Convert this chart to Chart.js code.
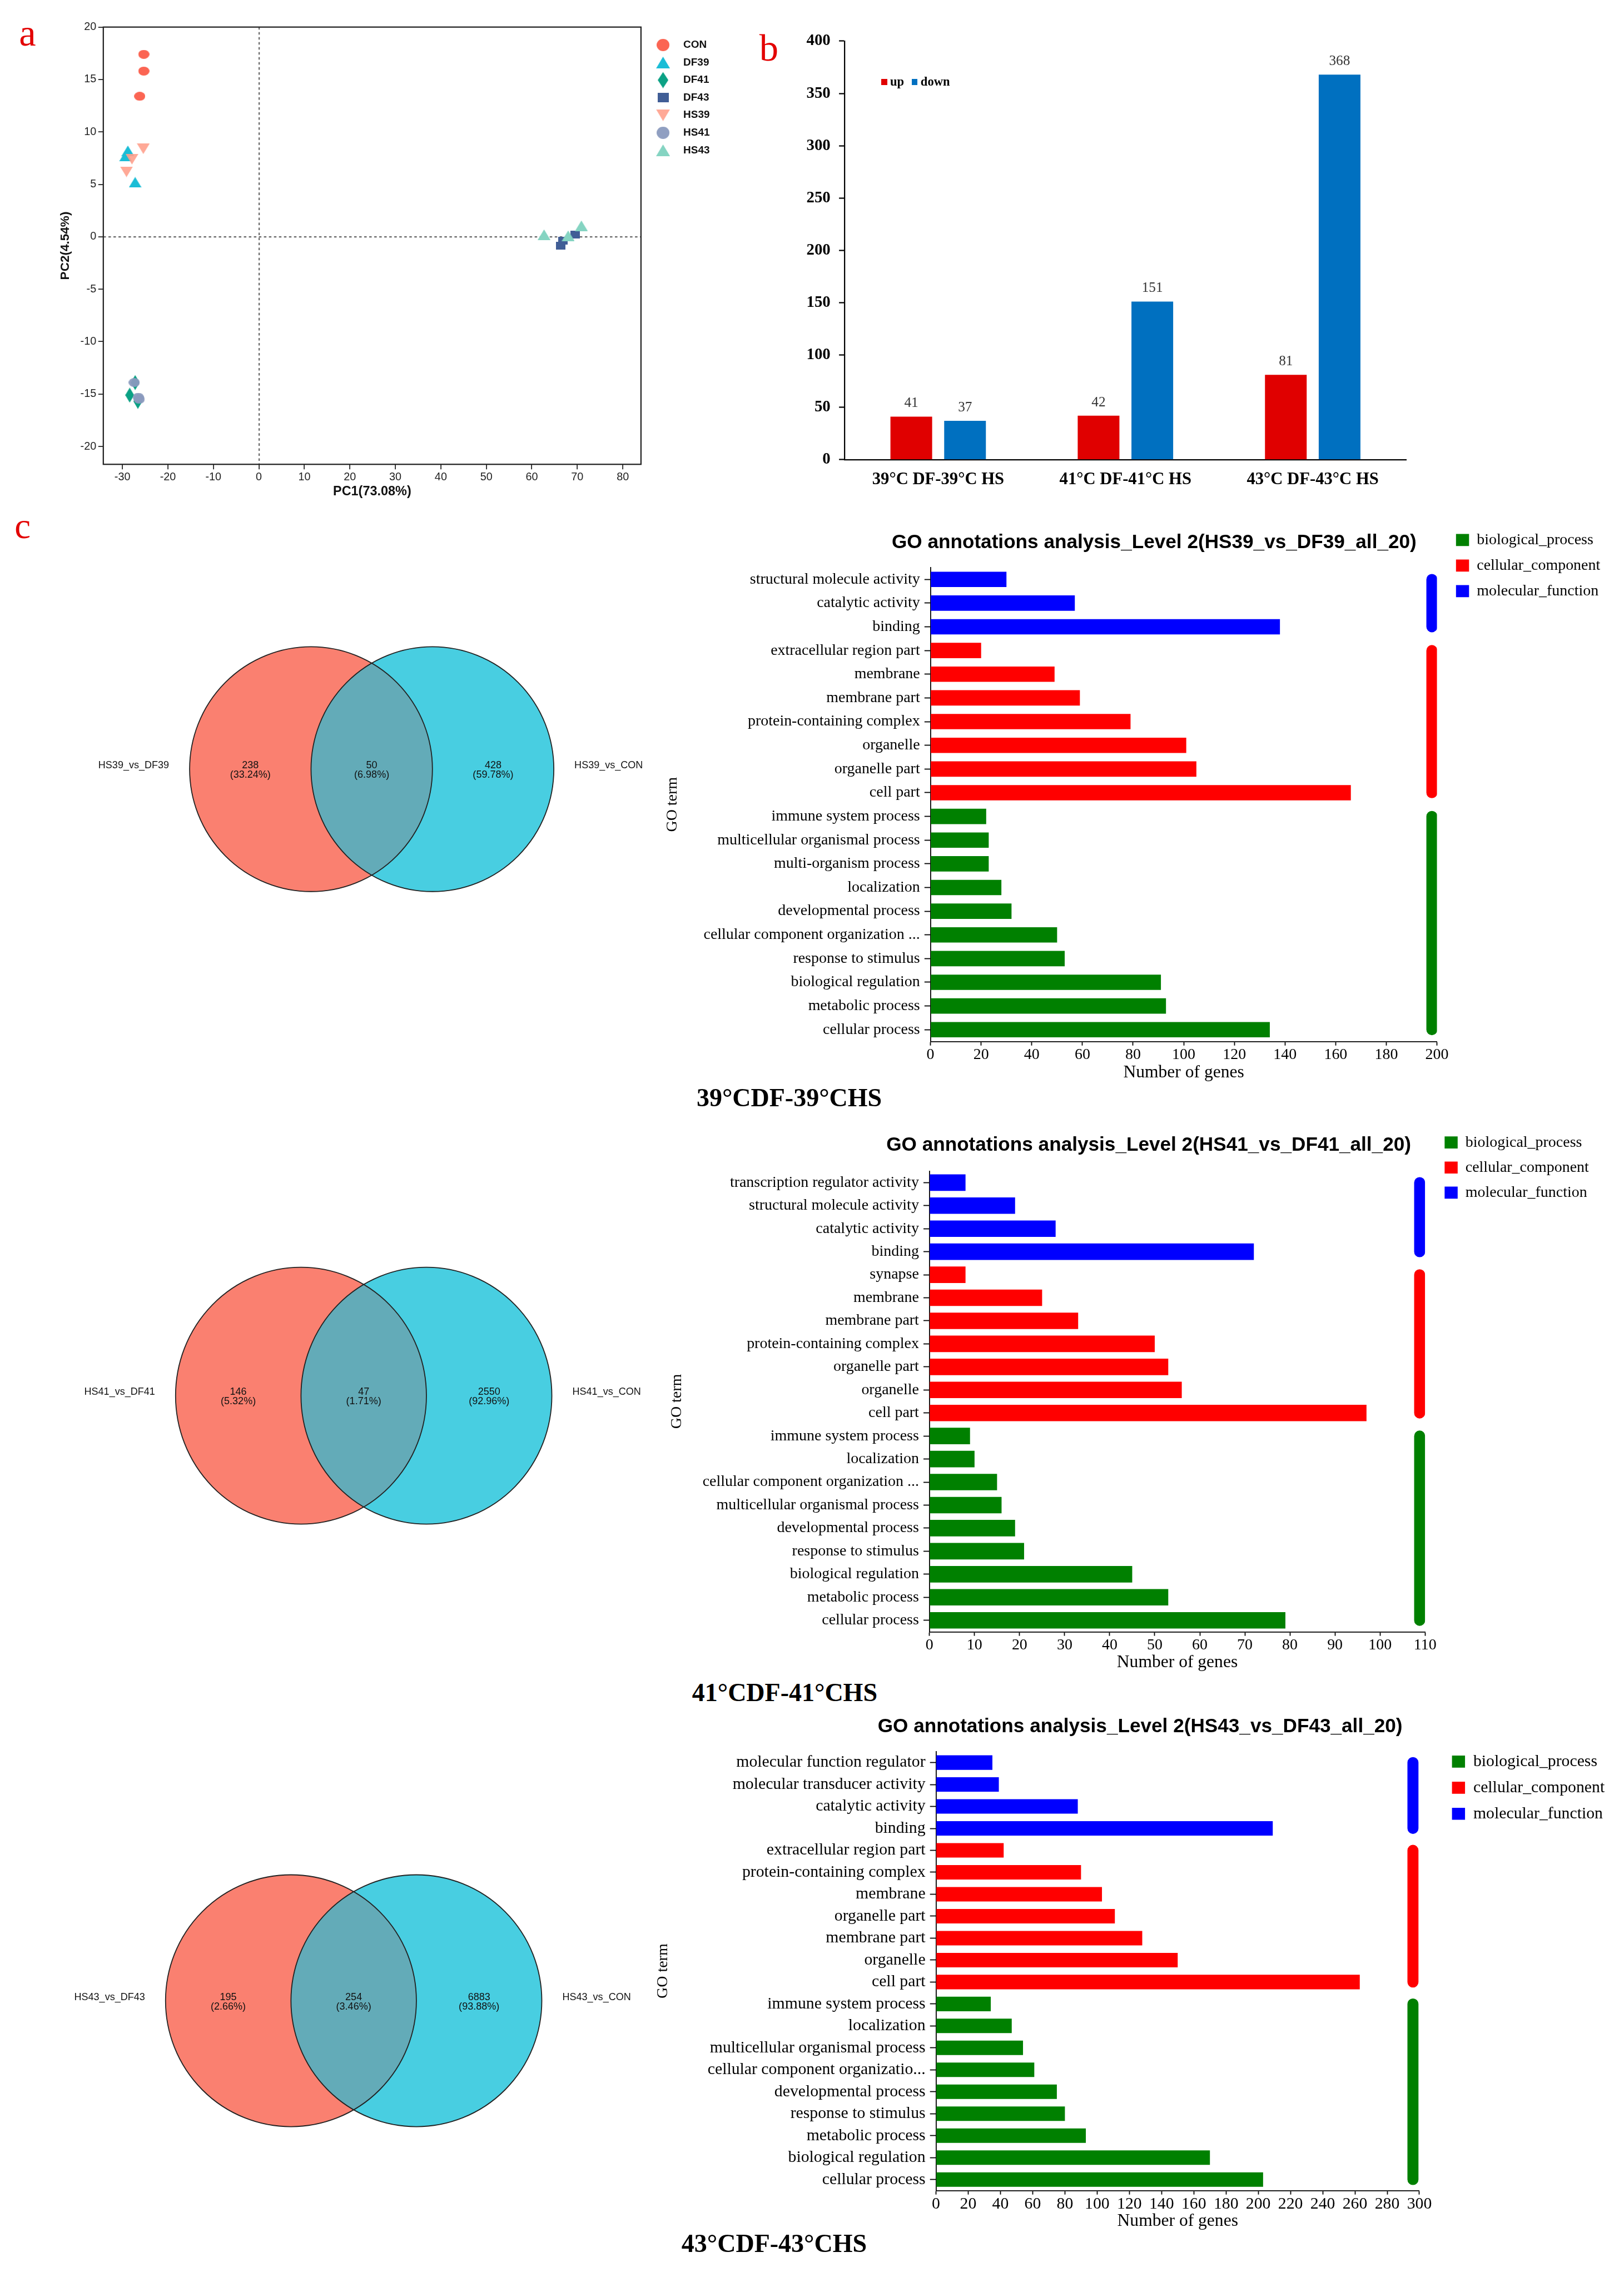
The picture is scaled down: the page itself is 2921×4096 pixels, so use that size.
<!DOCTYPE html>
<html>
<head>
<meta charset="utf-8">
<title>PCA, DEG counts, Venn and GO annotation</title>
<script src="https://cdn.jsdelivr.net/npm/chart.js@4.4.1/dist/chart.umd.min.js"></script>
<style>
  html, body { margin: 0; padding: 0; background: #fff; overflow: hidden; }
  #page { position: relative; width: 2921px; height: 4096px; background: #fff; }
  #page canvas { position: absolute; }
  .txt { position: absolute; white-space: nowrap; line-height: 1; font-family: 'Liberation Serif', 'Times New Roman', serif; }
</style>
</head>
<body>
<div id="page"></div>
<script>
/* ---------------- data ---------------- */
// a: PCA scores (PC1, PC2)
var pcaGroups = ['CON', 'DF39', 'DF41', 'DF43', 'HS39', 'HS41', 'HS43'];
var pcaCON  = [[-25.3, 17.4], [-25.3, 15.8], [-26.2, 13.4]];
var pcaDF39 = [[-28.8, 8.2], [-29.3, 7.7], [-27.2, 5.2]];
var pcaDF41 = [[-27.2, -13.9], [-28.4, -15.1], [-26.6, -15.7]];
var pcaDF43 = [[66.4, -0.85], [66.9, -0.4], [69.5, 0.2]];
var pcaHS39 = [[-25.4, 8.4], [-27.9, 7.4], [-29.1, 6.2]];
var pcaHS41 = [[-27.4, -13.9], [-26.5, -15.3], [-26.3, -15.5]];
var pcaHS43 = [[62.7, 0.2], [68.0, 0.1], [70.9, 1.05]];

// b: DEG numbers
var degCats = ['39°C DF-39°C HS', '41°C DF-41°C HS', '43°C DF-43°C HS'];
var degUp = [41, 42, 81];
var degDown = [37, 151, 368];

// c: Venn
var venn39Sets = ['HS39_vs_DF39', 'HS39_vs_CON'];
var venn39Counts = [238, 50, 428];
var venn39Pct = ['33.24%', '6.98%', '59.78%'];
var venn41Sets = ['HS41_vs_DF41', 'HS41_vs_CON'];
var venn41Counts = [146, 47, 2550];
var venn41Pct = ['5.32%', '1.71%', '92.96%'];
var venn43Sets = ['HS43_vs_DF43', 'HS43_vs_CON'];
var venn43Counts = [195, 254, 6883];
var venn43Pct = ['2.66%', '3.46%', '93.88%'];

// c: GO level 2
var goClassNames = ['biological_process', 'cellular_component', 'molecular_function'];
var goClassCodes = ['BP', 'CC', 'MF'];

var go39Terms = ['structural molecule activity', 'catalytic activity', 'binding',
  'extracellular region part', 'membrane', 'membrane part', 'protein-containing complex',
  'organelle', 'organelle part', 'cell part',
  'immune system process', 'multicellular organismal process', 'multi-organism process',
  'localization', 'developmental process', 'cellular component organization ...',
  'response to stimulus', 'biological regulation', 'metabolic process', 'cellular process'];
var go39Counts = [30, 57, 138, 20, 49, 59, 79, 101, 105, 166, 22, 23, 23, 28, 32, 50, 53, 91, 93, 134];
var go39Class = ['MF', 'MF', 'MF', 'CC', 'CC', 'CC', 'CC', 'CC', 'CC', 'CC',
  'BP', 'BP', 'BP', 'BP', 'BP', 'BP', 'BP', 'BP', 'BP', 'BP'];

var go41Terms = ['transcription regulator activity', 'structural molecule activity', 'catalytic activity', 'binding',
  'synapse', 'membrane', 'membrane part', 'protein-containing complex', 'organelle part', 'organelle', 'cell part',
  'immune system process', 'localization', 'cellular component organization ...',
  'multicellular organismal process', 'developmental process', 'response to stimulus',
  'biological regulation', 'metabolic process', 'cellular process'];
var go41Counts = [8, 19, 28, 72, 8, 25, 33, 50, 53, 56, 97, 9, 10, 15, 16, 19, 21, 45, 53, 79];
var go41Class = ['MF', 'MF', 'MF', 'MF', 'CC', 'CC', 'CC', 'CC', 'CC', 'CC', 'CC',
  'BP', 'BP', 'BP', 'BP', 'BP', 'BP', 'BP', 'BP', 'BP'];

var go43Terms = ['molecular function regulator', 'molecular transducer activity', 'catalytic activity', 'binding',
  'extracellular region part', 'protein-containing complex', 'membrane', 'organelle part', 'membrane part',
  'organelle', 'cell part',
  'immune system process', 'localization', 'multicellular organismal process', 'cellular component organizatio...',
  'developmental process', 'response to stimulus', 'metabolic process', 'biological regulation', 'cellular process'];
var go43Counts = [35, 39, 88, 209, 42, 90, 103, 111, 128, 150, 263, 34, 47, 54, 61, 75, 80, 93, 170, 203];
var go43Class = ['MF', 'MF', 'MF', 'MF', 'CC', 'CC', 'CC', 'CC', 'CC', 'CC', 'CC',
  'BP', 'BP', 'BP', 'BP', 'BP', 'BP', 'BP', 'BP', 'BP'];

/* ---------------- setup ---------------- */
var S = 0.902;   // reference pixels -> page pixels
function px(v) { return v * S; }
var SERIF = "'Liberation Serif', 'Times New Roman', serif";
var SANS = "'Liberation Sans', Arial, sans-serif";
var page = document.getElementById('page');

Chart.defaults.font.family = SERIF;
Chart.defaults.color = '#000';
Chart.defaults.animation = false;
Chart.defaults.plugins.tooltip.enabled = false;

function addCanvas(x, y, w, h) {
  var c = document.createElement('canvas');
  c.width = Math.round(px(w));
  c.height = Math.round(px(h));
  c.style.left = px(x) + 'px';
  c.style.top = px(y) + 'px';
  page.appendChild(c);
  return c;
}

function addText(text, x, baseline, size, weight, color) {
  var d = document.createElement('div');
  d.className = 'txt';
  d.textContent = text;
  d.style.left = px(x) + 'px';
  d.style.top = px(baseline - 0.84 * size) + 'px';
  d.style.fontSize = px(size) + 'px';
  d.style.fontWeight = weight || 'normal';
  d.style.color = color || '#000';
  page.appendChild(d);
}

// after layout: nudge the title sideways, and let the legend text run to the canvas edge
var boxTweak = {
  id: 'boxTweak',
  afterLayout: function (chart, args, opts) {
    var t = chart.titleBlock;
    if (t && opts.dx) {
      t.left += opts.dx - opts.widen;
      t.right += opts.dx + opts.widen;
    }
    if (chart.legend) chart.legend.right = chart.width;
  }
};

/* ---------------- a: PCA ---------------- */
var pcaShape = {CON: 'circle', DF39: 'up', DF41: 'diamond', DF43: 'square', HS39: 'down', HS41: 'circle', HS43: 'up'};
var pcaColor = {CON: '#FB6553', DF39: '#1BBDD6', DF41: '#0BA184', DF43: '#415E96',
  HS39: 'rgba(255,160,140,0.9)', HS41: 'rgba(138,154,190,0.95)', HS43: '#85D4C2'};
var plotSize = {circle: [22, 18], up: [26, 21], down: [26, 21], diamond: [18, 30], square: [19, 15]};
var keySize = {circle: [25, 24], up: [28, 23], down: [28, 23], diamond: [21, 32], square: [22, 19]};

function marker(shape, color, size) {
  var c = document.createElement('canvas');
  c.width = Math.round(px(size[0]));
  c.height = Math.round(px(size[1]));
  var g = c.getContext('2d'), W = c.width, H = c.height;
  g.fillStyle = color;
  g.beginPath();
  if (shape === 'circle') g.ellipse(W / 2, H / 2, W / 2, H / 2, 0, 0, Math.PI * 2);
  else if (shape === 'up') { g.moveTo(W / 2, 0); g.lineTo(W, H); g.lineTo(0, H); }
  else if (shape === 'down') { g.moveTo(0, 0); g.lineTo(W, 0); g.lineTo(W / 2, H); }
  else if (shape === 'diamond') { g.moveTo(W / 2, 0); g.lineTo(W, H / 2); g.lineTo(W / 2, H); g.lineTo(0, H / 2); }
  else g.rect(0, 0, W, H);
  g.closePath();
  g.fill();
  return c;
}

var frame = {
  id: 'frame',
  beforeDatasetsDraw: function (chart) {
    var a = chart.chartArea, ctx = chart.ctx;
    ctx.save();
    ctx.strokeStyle = '#222';
    ctx.lineWidth = px(2.5);
    ctx.strokeRect(a.left, a.top, a.right - a.left, a.bottom - a.top);
    ctx.restore();
  }
};

var pcaPoints = [pcaCON, pcaDF39, pcaDF41, pcaDF43, pcaHS39, pcaHS41, pcaHS43];
var zeroLine = function (c) { return c.tick && c.tick.value === 0 ? '#666' : 'rgba(0,0,0,0)'; };

new Chart(addCanvas(0, 0, 1430, 1000), {
  type: 'scatter',
  data: {
    datasets: pcaGroups.map(function (g, i) {
      return {
        label: g,
        data: pcaPoints[i].map(function (p) { return {x: p[0], y: p[1]}; }),
        pointStyle: marker(pcaShape[g], pcaColor[g], plotSize[pcaShape[g]]),
        order: g.indexOf('HS') === 0 ? 0 : 1
      };
    })
  },
  options: {
    responsive: false,
    layout: {padding: {left: px(112), top: px(54), right: px(32), bottom: 0}},
    plugins: {
      legend: {
        position: 'right', align: 'start', maxWidth: px(120),
        title: {display: true, text: '', padding: px(2), font: {size: px(6)}},
        labels: {
          usePointStyle: true, pointStyleWidth: px(60), boxHeight: px(21), padding: px(14),
          font: {family: SANS, size: px(21), weight: 'bold'}, color: '#111',
          sort: function (a, b) { return a.datasetIndex - b.datasetIndex; },
          generateLabels: function (chart) {
            return Chart.defaults.plugins.legend.labels.generateLabels(chart).map(function (item) {
              var g = pcaGroups[item.datasetIndex];
              item.pointStyle = marker(pcaShape[g], pcaColor[g], keySize[pcaShape[g]]);
              return item;
            });
          }
        }
      }
    },
    scales: {
      x: {
        type: 'linear', min: -34.2, max: 84,
        ticks: {stepSize: 10, includeBounds: false, font: {family: SANS, size: px(22)}, color: '#222', padding: px(3)},
        grid: {color: zeroLine, lineWidth: px(2.5), tickColor: '#222', tickLength: px(10), tickWidth: px(2)},
        border: {display: false, dash: [px(5), px(5)]},
        title: {display: true, text: 'PC1(73.08%)', font: {family: SANS, size: px(26), weight: 'bold'}, color: '#111', padding: {top: 0, bottom: px(4)}},
        afterFit: function (s) { s.height = px(74); }
      },
      y: {
        type: 'linear', min: -21.7, max: 20,
        ticks: {stepSize: 5, includeBounds: false, font: {family: SANS, size: px(22)}, color: '#222', padding: px(4)},
        grid: {color: zeroLine, lineWidth: px(2.5), tickColor: '#222', tickLength: px(10), tickWidth: px(2)},
        border: {display: false, dash: [px(5), px(5)]},
        title: {display: true, text: 'PC2(4.54%)', font: {family: SANS, size: px(25), weight: 'bold'}, color: '#111', padding: {top: px(4), bottom: 0}},
        afterFit: function (s) { s.width = px(94); }
      }
    }
  },
  plugins: [frame, boxTweak]
});

/* ---------------- b: DEG bars ---------------- */
var barValueLabels = {
  id: 'barValueLabels',
  afterDatasetsDraw: function (chart) {
    var ctx = chart.ctx;
    ctx.save();
    ctx.font = px(28) + 'px ' + SERIF;
    ctx.fillStyle = '#333';
    ctx.textAlign = 'center';
    chart.data.datasets.forEach(function (ds, i) {
      chart.getDatasetMeta(i).data.forEach(function (bar, j) {
        ctx.fillText(ds.data[j], bar.x, bar.y - px(19));
      });
    });
    ctx.restore();
  }
};

var chartB = new Chart(addCanvas(1480, 0, 1370, 1000), {
  type: 'bar',
  data: {
    labels: degCats,
    datasets: [
      {label: 'up', data: degUp, backgroundColor: '#E00000'},
      {label: 'down', data: degDown, backgroundColor: '#0070C0'}
    ]
  },
  options: {
    responsive: false,
    layout: {padding: {left: 0, top: px(82), right: px(46), bottom: 0}},
    datasets: {bar: {categoryPercentage: 0.574, barPercentage: 0.776}},
    plugins: {legend: {display: false}},
    scales: {
      x: {
        ticks: {font: {size: px(34), weight: 'bold'}, color: '#000', padding: px(20)},
        grid: {display: false, drawTicks: false},
        border: {color: '#000', width: px(2.5)},
        afterFit: function (s) { s.height = px(83.5); }
      },
      y: {
        min: 0, max: 400,
        ticks: {stepSize: 50, font: {size: px(32), weight: 'bold'}, color: '#000', padding: px(17)},
        grid: {drawOnChartArea: false, tickLength: px(11), tickColor: '#000', tickWidth: px(2.5)},
        border: {color: '#000', width: px(2.5)},
        afterFit: function (s) { s.width = px(204); }
      }
    }
  },
  plugins: [barValueLabels]
});

// html legend for b, built from the chart's datasets
var bLegend = document.createElement('div');
bLegend.style.cssText = 'position:absolute;display:flex;align-items:center;line-height:1;white-space:nowrap;font-weight:bold;font-family:' + SERIF;
bLegend.style.left = px(1757) + 'px';
bLegend.style.top = px(151) + 'px';
bLegend.style.fontSize = px(25) + 'px';
chartB.data.datasets.forEach(function (ds) {
  var item = document.createElement('span');
  item.style.cssText = 'display:flex;align-items:center;margin-right:' + px(15) + 'px';
  var sw = document.createElement('span');
  sw.style.cssText = 'display:inline-block;width:' + px(12) + 'px;height:' + px(12) + 'px;margin-right:' + px(6) + 'px;background:' + ds.backgroundColor;
  item.appendChild(sw);
  item.appendChild(document.createTextNode(ds.label));
  bLegend.appendChild(item);
});
page.appendChild(bLegend);

/* ---------------- c: Venn ---------------- */
function vennChart(box, xRange, yRange, sets, counts, pct) {
  var draw = {
    id: 'venn',
    afterDraw: function (chart) {
      var ctx = chart.ctx, x = chart.scales.x, y = chart.scales.y;
      var cL = x.getPixelForValue(0), cR = x.getPixelForValue(1), cy = y.getPixelForValue(0);
      var rx = cR - cL, ry = cy - y.getPixelForValue(1);
      function ell(c) { ctx.beginPath(); ctx.ellipse(c, cy, rx, ry, 0, 0, Math.PI * 2); }
      ctx.save();
      ell(cL); ctx.fillStyle = '#FA8070'; ctx.fill();
      ell(cR); ctx.fillStyle = '#48CEE1'; ctx.fill();
      ctx.save(); ell(cL); ctx.clip(); ell(cR); ctx.fillStyle = '#63ABB8'; ctx.fill(); ctx.restore();
      ctx.lineWidth = px(2);
      ctx.strokeStyle = '#222';
      ell(cL); ctx.stroke();
      ell(cR); ctx.stroke();
      ctx.fillStyle = '#111';
      ctx.font = px(20) + 'px ' + SANS;
      ctx.textBaseline = 'middle';
      ctx.textAlign = 'center';
      [-0.5, 0.5, 1.5].forEach(function (v, i) {
        ctx.fillText(String(counts[i]), x.getPixelForValue(v), cy - px(7));
        ctx.fillText('(' + pct[i] + ')', x.getPixelForValue(v), cy + px(12));
      });
      ctx.textAlign = 'right';
      ctx.fillText(sets[0], x.getPixelForValue(-1) - px(41), cy - px(7));
      ctx.textAlign = 'left';
      ctx.fillText(sets[1], x.getPixelForValue(2) + px(41), cy - px(7));
      ctx.restore();
    }
  };
  return new Chart(addCanvas(box[0], box[1], box[2], box[3]), {
    type: 'scatter',
    data: {datasets: []},
    options: {
      responsive: false,
      events: [],
      layout: {padding: 0},
      plugins: {legend: {display: false}},
      scales: {
        x: {type: 'linear', min: xRange[0], max: xRange[1], display: false},
        y: {type: 'linear', min: yRange[0], max: yRange[1], display: false}
      }
    },
    plugins: [draw]
  });
}

vennChart([0, 1150, 1300, 800], [-2.562, 2.810], [-1.705, 1.574], venn39Sets, venn39Counts, venn39Pct);
vennChart([0, 2400, 1300, 800], [-2.4, 2.8], [-1.629, 1.496], venn41Sets, venn41Counts, venn41Pct);
vennChart([0, 3600, 1300, 800], [-2.32, 2.88], [-1.633, 1.554], venn43Sets, venn43Counts, venn43Pct);

/* ---------------- c: GO bars ---------------- */
var goClassColors = ['#008000', '#FF0000', '#0000FF'];

function goChart(box, terms, counts, classes, xMax, xStep, bracketAt, title, g) {
  var bars = goClassNames.map(function (name, k) {
    return {
      label: name,
      data: counts.map(function (v, i) { return classes[i] === goClassCodes[k] ? v : null; }),
      backgroundColor: goClassColors[k],
      borderWidth: 0,
      grouped: false,
      categoryPercentage: 1,
      barPercentage: g.barPct
    };
  });
  var brackets = goClassNames.map(function (name, k) {
    var own = terms.filter(function (t, i) { return classes[i] === goClassCodes[k]; });
    return {
      type: 'line',
      label: name,
      data: [{x: bracketAt, y: own[0]}, {x: bracketAt, y: own[own.length - 1]}],
      borderColor: goClassColors[k],
      borderWidth: px(22),
      borderCapStyle: 'round',
      pointRadius: 0,
      xAxisID: 'x',
      yAxisID: 'y'
    };
  });
  return new Chart(addCanvas(box[0], box[1], box[2], box[3]), {
    type: 'bar',
    data: {labels: terms, datasets: bars.concat(brackets)},
    options: {
      responsive: false,
      indexAxis: 'y',
      layout: {padding: {top: px(g.pad[0]), right: px(g.pad[1]), bottom: 0, left: 0}},
      plugins: {
        title: {
          display: true, text: title, fullSize: false,
          font: {family: SANS, size: px(39), weight: 'bold'}, color: '#000',
          padding: {top: px(g.titlePad[0]), bottom: px(g.titlePad[1])}
        },
        boxTweak: {dx: px(g.dx), widen: px(200)},
        legend: {
          position: 'right', align: 'start', maxWidth: px(280),
          title: g.legendTitle ? {display: true, text: '', font: {size: px(10)}, padding: px((g.legendTitle - 12) / 2)} : {display: false},
          labels: {
            boxWidth: px(26), boxHeight: px(24), padding: px(g.p),
            font: {size: px(g.font)}, color: '#000',
            filter: function (item) { return item.datasetIndex < 3; }
          }
        }
      },
      scales: {
        x: {
          type: 'linear', min: 0, max: xMax,
          ticks: {stepSize: xStep, autoSkip: false, maxRotation: 0, font: {size: px(g.font)}, color: '#000', padding: 0},
          grid: {drawOnChartArea: false, tickLength: px(8), tickColor: '#000', tickWidth: px(2)},
          border: {color: '#000', width: px(2)},
          title: {display: true, text: 'Number of genes', font: {size: px(35)}, color: '#000', padding: {top: 0, bottom: px(4)}},
          afterFit: function (s) { s.height = px(g.xH); }
        },
        y: {
          type: 'category',
          ticks: {autoSkip: false, font: {size: px(g.font)}, color: '#000', padding: px(9)},
          grid: {offset: false, drawOnChartArea: false, tickLength: px(12), tickColor: '#000', tickWidth: px(2)},
          border: {color: '#000', width: px(2)},
          title: {display: true, text: 'GO term', font: {size: px(31)}, color: '#000', padding: {top: px(g.termPad), bottom: 0}},
          afterFit: function (s) { s.width = px(g.yW); }
        },
        gap: {
          type: 'linear', position: 'right',
          ticks: {display: false},
          grid: {display: false, drawTicks: false},
          border: {display: false},
          afterFit: function (s) { s.width = px(g.gap); }
        }
      }
    },
    plugins: [boxTweak]
  });
}

goChart([1300, 1040, 1938, 1124], go39Terms, go39Counts, go39Class, 200, 20, 198,
  'GO annotations analysis_Level 2(HS39_vs_DF39_all_20)',
  {pad: [1.5, 75], yW: 555, xH: 87, gap: 18, p: 20, font: 31, legendTitle: 0,
   titlePad: [17.1, 26.6], dx: -59, termPad: 22.4, barPct: 0.648});

goChart([1300, 2240, 1900, 1101], go41Terms, go41Counts, go41Class, 110, 10, 108.8,
  'GO annotations analysis_Level 2(HS41_vs_DF41_all_20)',
  {pad: [4.5, 59], yW: 553, xH: 86, gap: 20, p: 19, font: 31, legendTitle: 0,
   titlePad: [17.1, 27.6], dx: -57, termPad: 30.4, barPct: 0.715});

goChart([1300, 3410, 1938, 1044], go43Terms, go43Counts, go43Class, 300, 20, 296,
  'GO annotations analysis_Level 2(HS43_vs_DF43_all_20)',
  {pad: [3, 82], yW: 566, xH: 86, gap: 46, p: 19, font: 33, legendTitle: 64.5,
   titlePad: [7.6, 25.6], dx: -75, termPad: 3.4, barPct: 0.66});

/* ---------------- panel letters and captions ---------------- */
addText('a', 38, 92, 76, 'normal', '#E30000');
addText('b', 1514, 121, 76, 'normal', '#E30000');
addText('c', 29, 1074, 72, 'normal', '#E30000');
addText('39°CDF-39°CHS', 1389, 2207, 51, 'bold');
addText('41°CDF-41°CHS', 1380, 3393, 51, 'bold');
addText('43°CDF-43°CHS', 1359, 4492, 51, 'bold');
</script>
</body>
</html>
